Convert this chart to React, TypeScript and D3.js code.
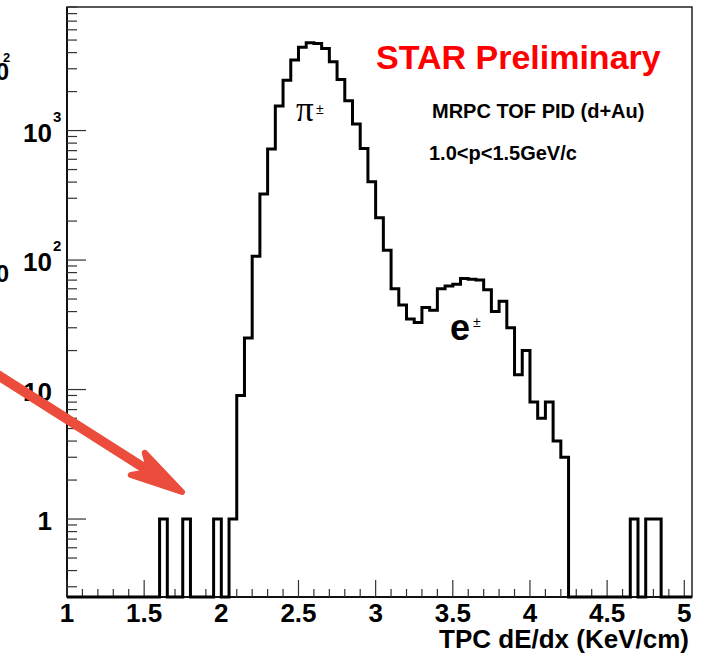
import React from "react";
import * as d3 from "d3";

// histogram: TPC dE/dx, bins of 0.05 starting at 1.0 (81 bins up to 5.05)
const binStart = 1.0;
const binWidth = 0.05;
const counts = [
  0, 0, 0, 0, 0, 0, 0, 0, 0, 0, // 1.00 - 1.45
  0, 0, 1, 0, 0, 1, 0, 0, 0, 1, // 1.50 - 1.95
  0, 1, 9, 25, 107, 323, 720, 1550, 2450, 3500, // 2.00 - 2.45
  4390, 4760, 4710, 4310, 3400, 2480, 1700, 1125, 728, 403, // 2.50 - 2.95
  212, 119, 60, 45, 35, 33, 43, 41, 60, 63, // 3.00 - 3.45
  65, 72, 71, 70, 59, 40, 48, 30, 13, 20, // 3.50 - 3.95
  8, 6, 8, 4, 3, 0, 0, 0, 0, 0, // 4.00 - 4.45
  0, 0, 0, 1, 0, 1, 1, 0, 0, 0, // 4.50 - 4.95
  0, // 5.00
];

const xDomain = [1, 5.05];
const yDomain = [0.25, 9000];
const xTickLabels = ["1", "1.5", "2", "2.5", "3", "3.5", "4", "4.5", "5"];
const yTickValues = [1, 10, 100, 1000];
const yTickBase = ["1", "10", "10", "10"];
const yTickExp = ["", "", "2", "3"];

const W = 702;
const H = 658;
const left = 67, right = 692, top = 7, bottom = 597;
const sans = "'Liberation Sans', Arial, Helvetica, sans-serif";
const arrowColor = "#eb4c3c";

export default function App() {
  const xScale = d3.scaleLinear().domain(xDomain).range([left, right]);
  const yScale = d3.scaleLog().domain(yDomain).range([bottom, top]);

  const pts: [number, number][] = [];
  counts.forEach((c, i) => {
    const x0 = binStart + i * binWidth;
    pts.push([x0, c], [x0 + binWidth, c]);
  });
  const line = d3
    .line<[number, number]>()
    .x((d) => xScale(d[0]))
    .y((d) => (d[1] > 0 ? yScale(d[1]) : yScale(yDomain[0])));

  const xMajor = xScale.ticks(8);
  const xMinor = xScale.ticks(40).filter((t) => !xMajor.some((m) => Math.abs(m - t) < 1e-9));
  const yAll = yScale.ticks();
  const isMajor = (v: number) => Math.abs(Math.log10(v) - Math.round(Math.log10(v))) < 1e-9;

  // arrow geometry
  const tip: [number, number] = [182, 492];
  const tail: [number, number] = [-10, 370];
  const ang = Math.atan2(tip[1] - tail[1], tip[0] - tail[0]);
  const headLen = 54;
  const spread = (14 * Math.PI) / 180;
  const b1 = [tip[0] - headLen * Math.cos(ang - spread), tip[1] - headLen * Math.sin(ang - spread)];
  const b2 = [tip[0] - headLen * Math.cos(ang + spread), tip[1] - headLen * Math.sin(ang + spread)];
  const notch = [tip[0] - 38 * Math.cos(ang), tip[1] - 38 * Math.sin(ang)];

  return (
    <div style={{ position: "absolute", left: 0, top: 0 }}>
      <svg width={W} height={H} style={{ display: "block", background: "#fff" }}>
        {/* cut-off labels of neighbouring panel */}
        <text x={9} y={80} textAnchor="end" fontFamily={sans} fontWeight="bold" fontSize={24}>10</text>
        <text x={3} y={62} fontFamily={sans} fontWeight="bold" fontSize={13}>2</text>
        <text x={9} y={282} textAnchor="end" fontFamily={sans} fontWeight="bold" fontSize={24}>10</text>

        {/* frame */}
        <rect x={left} y={top} width={right - left} height={bottom - top} fill="none" stroke="#222" strokeWidth={1.5} />
        <line x1={left} x2={left} y1={top} y2={bottom} stroke="#111" strokeWidth={2} />
        <line x1={left} x2={right} y1={bottom} y2={bottom} stroke="#111" strokeWidth={2} />

        {/* y ticks */}
        {yAll.map((v, i) => (
          <line
            key={"yt" + i}
            x1={left}
            x2={left + (isMajor(v) ? 19 : 10)}
            y1={yScale(v)}
            y2={yScale(v)}
            stroke="#333"
            strokeWidth={1.2}
          />
        ))}
        {yTickValues.map((v, i) => (
          <g key={"yl" + i} fontFamily={sans} fontWeight="bold">
            <text x={52} y={yScale(v) + 11} textAnchor="end" fontSize={26}>{yTickBase[i]}</text>
            {yTickExp[i] && (
              <text x={53} y={yScale(v) - 9} fontSize={15}>{yTickExp[i]}</text>
            )}
          </g>
        ))}

        {/* x ticks */}
        {xMinor.map((t, i) => (
          <line key={"xm" + i} x1={xScale(t)} x2={xScale(t)} y1={bottom} y2={bottom - 8} stroke="#333" strokeWidth={1.2} />
        ))}
        {xMajor.map((t, i) => (
          <line key={"xM" + i} x1={xScale(t)} x2={xScale(t)} y1={bottom} y2={bottom - 17} stroke="#333" strokeWidth={1.2} />
        ))}
        {xMajor.map((t, i) => (
          <text key={"xl" + i} x={xScale(t)} y={622} textAnchor="middle" fontFamily={sans} fontWeight="bold" fontSize={26}>
            {xTickLabels[i]}
          </text>
        ))}
        <text x={689} y={648} textAnchor="end" fontFamily={sans} fontWeight="bold" fontSize={26}>
          TPC dE/dx (KeV/cm)
        </text>

        {/* histogram */}
        <path d={line(pts) || ""} fill="none" stroke="#000" strokeWidth={3} strokeLinejoin="miter" />

        {/* annotations */}
        <text x={376} y={69} fontFamily={sans} fontWeight="bold" fontSize={34} fill="#ff0000">STAR Preliminary</text>
        <text x={432} y={118} fontFamily={sans} fontWeight="bold" fontSize={20}>MRPC TOF PID (d+Au)</text>
        <text x={429} y={160} fontFamily={sans} fontWeight="bold" fontSize={20}>1.0&lt;p&lt;1.5GeV/c</text>

        <text x={296} y={121} fontFamily="'Liberation Serif', 'Times New Roman', serif" fontSize={35}>π</text>
        <text x={316} y={114} fontFamily={sans} fontSize={14}>±</text>
        <text x={450} y={340} fontFamily={sans} fontWeight="bold" fontSize={36}>e</text>
        <text x={473} y={327} fontFamily={sans} fontSize={14}>±</text>

        {/* red arrow */}
        <line x1={tail[0]} y1={tail[1]} x2={notch[0]} y2={notch[1]} stroke={arrowColor} strokeWidth={10} strokeLinecap="round" />
        <path
          d={`M${tip[0]},${tip[1]} L${b1[0]},${b1[1]} L${notch[0]},${notch[1]} L${b2[0]},${b2[1]} Z`}
          fill={arrowColor}
          stroke={arrowColor}
          strokeWidth={6}
          strokeLinejoin="round"
        />
      </svg>
    </div>
  );
}
